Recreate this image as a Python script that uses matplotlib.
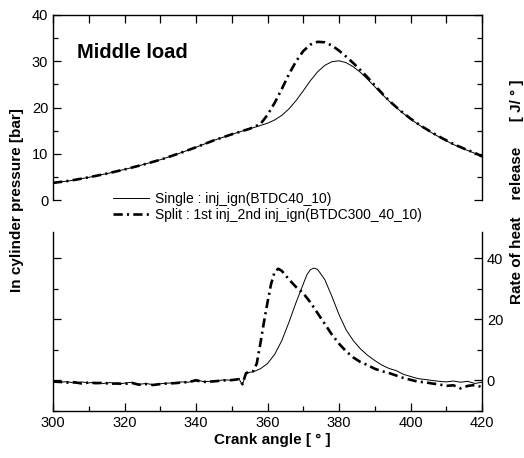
import matplotlib
matplotlib.use('Agg')
import matplotlib.pyplot as plt
from matplotlib.ticker import MultipleLocator

plt.rcParams['font.family'] = ['Liberation Sans', 'DejaVu Sans']

# ---- pressure data (crank angle deg, bar) ----
p_ang = [300, 305, 310, 315, 320, 325, 330, 335, 340, 345, 350, 355, 358,
         360, 362, 364, 366, 368, 370, 372, 374, 376, 378, 380, 382, 384,
         386, 388, 390, 392, 394, 396, 398, 400, 403, 406, 409, 412, 415,
         418, 420]
p_single = [3.7, 4.2, 4.9, 5.7, 6.6, 7.6, 8.7, 10.0, 11.4, 12.9, 14.2, 15.4, 16.1,
            16.6, 17.3, 18.3, 19.7, 21.5, 23.6, 25.8, 27.7, 29.1, 29.9, 30.1, 29.7, 28.8,
            27.6, 26.1, 24.5, 22.9, 21.4, 20.0, 18.7, 17.5, 15.9, 14.5, 13.2, 12.0, 11.0,
            10.1, 9.5]
p_split = [3.7, 4.2, 4.9, 5.7, 6.6, 7.6, 8.7, 10.0, 11.4, 12.9, 14.2, 15.4, 16.4,
           18.4, 21.0, 24.0, 27.2, 30.0, 32.2, 33.6, 34.2, 34.1, 33.4, 32.3, 31.0, 29.6,
           28.1, 26.5, 24.8, 23.1, 21.5, 20.1, 18.8, 17.6, 16.0, 14.6, 13.3, 12.1, 11.1,
           10.2, 9.4]

# ---- rate of heat release (crank angle deg, J/deg) ----
hr_ang_s = [300, 302, 304, 306, 308, 310, 312, 314, 316, 318, 320, 322, 324, 326,
            328, 330, 332, 334, 336, 338, 340, 342, 344, 346, 348, 350, 352, 353,
            354, 356, 358, 360, 362, 364, 366, 368, 370, 371, 372, 373, 374, 376,
            378, 380, 382, 384, 386, 388, 390, 392, 394, 396, 398, 400, 402, 404,
            406, 408, 410, 412, 414, 416, 418, 420]
hr_single = [-0.2, -0.6, -0.4, -0.9, -0.5, -0.8, -0.6, -1.0, -0.7, -1.2, -0.9, -0.6, -1.3, -1.0,
             -1.4, -1.1, -0.9, -0.8, -0.5, -0.6, 0.3, -0.4, -0.3, -0.1, 0.2, 0.0, 0.5, -1.5,
             2.5, 2.8, 3.8, 5.5, 8.5, 13.0, 19.0, 25.5, 31.5, 34.5, 36.2, 36.7, 36.3, 33.0,
             27.5, 21.5, 16.5, 13.0, 10.3, 8.2, 6.5, 5.0, 3.9, 3.2, 2.0, 1.3, 0.6, 0.3,
             0.0, -0.3, -0.5, -0.2, -0.6, -0.3, -1.0, -0.6]

hr_ang_p = [300, 302, 304, 306, 308, 310, 312, 314, 316, 318, 320, 322, 324, 326,
            328, 330, 332, 334, 336, 338, 340, 342, 344, 346, 348, 350, 352, 353,
            354, 356, 357, 358, 359, 360, 361, 362, 363, 364, 366, 368, 370, 372,
            374, 376, 378, 380, 382, 384, 386, 388, 390, 392, 394, 396, 398, 400,
            402, 404, 406, 408, 410, 412, 414, 416, 418, 420]
hr_split = [-0.4, -0.5, -0.7, -0.6, -1.0, -0.7, -0.9, -0.8, -1.1, -1.0, -1.2, -0.8, -1.4, -1.2,
            -1.5, -1.2, -1.0, -0.9, -0.7, -0.5, 0.0, -0.5, -0.4, -0.2, 0.0, 0.1, 0.4, -1.2,
            2.4, 3.0, 5.5, 12.0, 19.0, 25.5, 31.5, 35.5, 36.5, 35.8, 33.0, 30.5, 28.5, 25.5,
            22.0, 18.5, 15.0, 12.0, 9.5, 7.5, 6.0, 5.0, 3.8, 3.0, 2.4, 1.6, 0.8, 0.2,
            -0.4, -0.6, -1.0, -1.3, -1.8, -1.6, -2.6, -1.8, -1.5, -2.2]

lbl_single = 'Single : inj_ign(BTDC40_10)'
lbl_split = 'Split : 1st inj_2nd inj_ign(BTDC300_40_10)'

W, H = 524, 458
fig = plt.figure(figsize=(W / 100, H / 100), dpi=100)

x0, x1 = 53, 482
ax1 = fig.add_axes([x0 / W, 1 - 200 / H, (x1 - x0) / W, 185 / H])
ax2 = fig.add_axes([x0 / W, 1 - 411 / H, (x1 - x0) / W, (411 - 232) / H])

dashdot = (0, (3.5, 1.6, 0.8, 1.6))

# upper panel: pressure
ax1.plot(p_ang, p_single, color='black', lw=0.7, label=lbl_single)
ax1.plot(p_ang, p_split, color='black', lw=1.9, ls=dashdot, label=lbl_split)
ax1.set_xlim(300, 420)
ax1.set_ylim(0, 40)
ax1.spines['bottom'].set_visible(False)
ax1.yaxis.set_major_locator(MultipleLocator(10))
ax1.yaxis.set_minor_locator(MultipleLocator(5))
ax1.xaxis.set_major_locator(MultipleLocator(10))
ax1.tick_params(which='both', direction='in', top=True, bottom=False, right=True,
                labelbottom=False, labelsize=10.5, width=0.9)
ax1.tick_params(which='major', length=5.5)
ax1.tick_params(which='minor', length=3.5)
ax1.text(0.055, 0.80, 'Middle load', transform=ax1.transAxes, fontsize=14.5,
         fontweight='bold', ha='left', va='center')

# lower panel: heat release
ax2.plot(hr_ang_s, hr_single, color='black', lw=0.7)
ax2.plot(hr_ang_p, hr_split, color='black', lw=1.9, ls=dashdot)
ax2.set_xlim(300, 420)
ax2.set_ylim(-10, 48.5)
ax2.spines['top'].set_visible(False)
ax2.xaxis.set_major_locator(MultipleLocator(20))
ax2.xaxis.set_minor_locator(MultipleLocator(10))
ax2.yaxis.set_major_locator(MultipleLocator(20))
ax2.yaxis.set_minor_locator(MultipleLocator(10))
ax2.yaxis.tick_right()
ax2.tick_params(which='both', direction='in', left=True, right=True,
                labelleft=False, labelright=True, labelsize=10.5, width=0.9)
ax2.tick_params(which='major', length=5.5)
ax2.tick_params(which='minor', length=3.5)

for ax in (ax1, ax2):
    for s in ax.spines.values():
        s.set_linewidth(1.0)

fig.legend(loc='upper left', bbox_to_anchor=(113 / W, 1 - 192 / H), frameon=False,
           fontsize=10, handlelength=2.6, handletextpad=0.4, labelspacing=0.15,
           borderpad=0, borderaxespad=0)

fig.text(17 / W, 1 - 200 / H, 'In cylinder pressure [bar]', rotation=90,
         ha='center', va='center', fontsize=11, fontweight='bold')
fig.text(517 / W, 1 - 192 / H, 'Rate of heat    release      [ J/ \u00b0 ]', rotation=90,
         ha='center', va='center', fontsize=11, fontweight='bold')
fig.text(272 / W, 1 - 440 / H, 'Crank angle [ \u00b0 ]', ha='center', va='center',
         fontsize=11, fontweight='bold')

fig.savefig('out.png', dpi=100)
